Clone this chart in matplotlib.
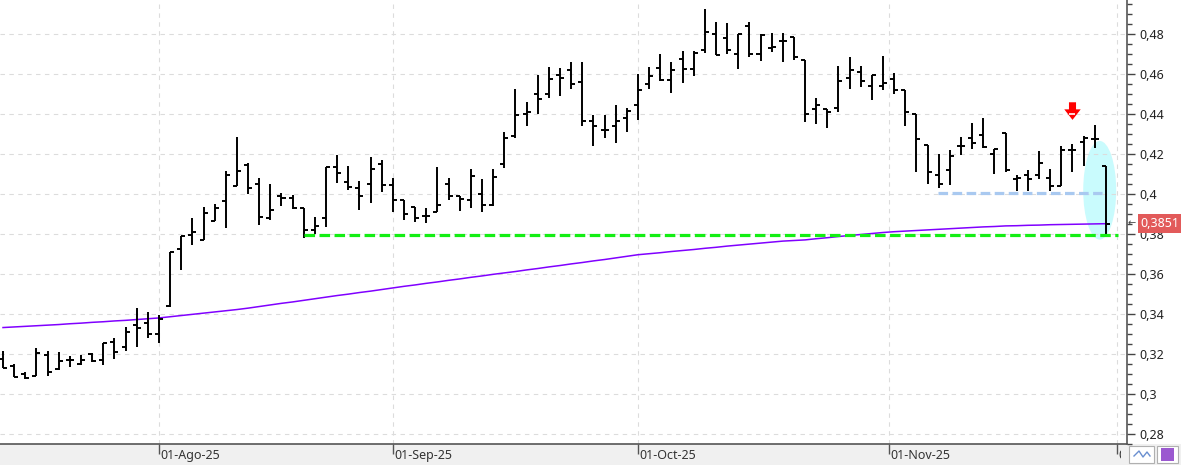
import matplotlib
matplotlib.use('Agg')
import matplotlib.pyplot as plt
import numpy as np
import pandas as pd
from matplotlib.patches import Ellipse, Rectangle
from matplotlib.transforms import Bbox, TransformedBbox

plt.rcParams['font.family'] = ['Noto Sans', 'DejaVu Sans']

# trading days shown on the chart
dates = pd.bdate_range('2025-07-14', '2025-11-28')

opens = [0.3177, 0.3142, 0.3099, 0.3092, 0.3193, 0.3125, 0.3168, 0.3148, 0.3198, 0.3168,
         0.3259, 0.3236, 0.3347, 0.3354, 0.3298, 0.3441, 0.3724, 0.3794, 0.3769, 0.3863,
         0.3963, 0.4037, 0.4142, 0.4048, 0.3878, 0.3988, 0.3978, 0.3928, 0.3820, 0.3878,
         0.4132, 0.4057, 0.4027, 0.4049, 0.4148, 0.4042, 0.3969, 0.3932, 0.3887, 0.3908,
         0.4049, 0.3990, 0.3969, 0.3998, 0.3946, 0.4147, 0.4289, 0.4400, 0.4497, 0.4497,
         0.4596, 0.4621, 0.4560, 0.4363, 0.4321, 0.4341, 0.4381, 0.4442, 0.4548, 0.4631,
         0.4570, 0.4674, 0.4624, 0.4717, 0.4798, 0.4779, 0.4700, 0.4840, 0.4700, 0.4729,
         0.4765, 0.4784, 0.4667, 0.4422, 0.4422, 0.4430, 0.4580, 0.4611, 0.4538, 0.4538,
         0.4575, 0.4521, 0.4400, 0.4243, 0.4093, 0.4120, 0.4239, 0.4281, 0.4293, 0.4198,
         0.4303, 0.4074, 0.4094, 0.4094, 0.4077, 0.4037, 0.4218, 0.4261, 0.4273, 0.4140]
highs = [0.3216, 0.3148, 0.3112, 0.3229, 0.3215, 0.3208, 0.3192, 0.3195, 0.3203, 0.3257,
         0.3278, 0.3336, 0.3430, 0.3410, 0.3394, 0.3712, 0.3792, 0.3880, 0.3933, 0.3948,
         0.4112, 0.4283, 0.4154, 0.4078, 0.4048, 0.4004, 0.3994, 0.3928, 0.3883, 0.4132,
         0.4193, 0.4137, 0.4062, 0.4182, 0.4170, 0.4079, 0.3969, 0.3935, 0.3928, 0.4133,
         0.4079, 0.3990, 0.4123, 0.4073, 0.4123, 0.4311, 0.4525, 0.4460, 0.4596, 0.4634,
         0.4629, 0.4659, 0.4659, 0.4392, 0.4392, 0.4442, 0.4430, 0.4600, 0.4634, 0.4699,
         0.4659, 0.4715, 0.4715, 0.4924, 0.4858, 0.4853, 0.4800, 0.4858, 0.4800, 0.4805,
         0.4803, 0.4784, 0.4667, 0.4480, 0.4422, 0.4641, 0.4684, 0.4641, 0.4595, 0.4691,
         0.4605, 0.4521, 0.4400, 0.4243, 0.4198, 0.4218, 0.4286, 0.4353, 0.4381, 0.4223,
         0.4303, 0.4094, 0.4119, 0.4212, 0.4124, 0.4240, 0.4248, 0.4289, 0.4343, 0.4140]
lows = [0.3128, 0.3085, 0.3075, 0.3092, 0.3092, 0.3120, 0.3137, 0.3145, 0.3162, 0.3145,
        0.3174, 0.3216, 0.3233, 0.3281, 0.3257, 0.3436, 0.3618, 0.3747, 0.3769, 0.3863,
        0.3832, 0.4037, 0.3999, 0.3846, 0.3868, 0.3937, 0.3925, 0.3782, 0.3800, 0.3837,
        0.4053, 0.4021, 0.3921, 0.3952, 0.4011, 0.3911, 0.3871, 0.3861, 0.3855, 0.3908,
        0.3971, 0.3915, 0.3928, 0.3911, 0.3941, 0.4127, 0.4281, 0.4339, 0.4400, 0.4478,
        0.4488, 0.4525, 0.4339, 0.4240, 0.4279, 0.4256, 0.4311, 0.4371, 0.4525, 0.4566,
        0.4505, 0.4555, 0.4588, 0.4704, 0.4694, 0.4699, 0.4624, 0.4684, 0.4662, 0.4707,
        0.4657, 0.4671, 0.4359, 0.4351, 0.4331, 0.4411, 0.4525, 0.4533, 0.4468, 0.4518,
        0.4498, 0.4339, 0.4110, 0.4048, 0.4027, 0.4044, 0.4193, 0.4223, 0.4231, 0.4099,
        0.4110, 0.4016, 0.4016, 0.4074, 0.4016, 0.4037, 0.4110, 0.4137, 0.4231, 0.3801]
closes = [0.3132, 0.3085, 0.3079, 0.3203, 0.3109, 0.3165, 0.3170, 0.3168, 0.3165, 0.3257,
          0.3208, 0.3311, 0.3331, 0.3298, 0.3374, 0.3709, 0.3792, 0.3809, 0.3903, 0.3928,
          0.4092, 0.4112, 0.4028, 0.3882, 0.3920, 0.3978, 0.3928, 0.3818, 0.3839, 0.4132,
          0.4104, 0.4035, 0.3988, 0.4122, 0.4044, 0.3968, 0.3898, 0.3878, 0.3887, 0.3942,
          0.3990, 0.3974, 0.4087, 0.3946, 0.4083, 0.4281, 0.4392, 0.4410, 0.4475, 0.4575,
          0.4580, 0.4551, 0.4363, 0.4339, 0.4321, 0.4363, 0.4414, 0.4520, 0.4591, 0.4570,
          0.4619, 0.4624, 0.4703, 0.4808, 0.4694, 0.4717, 0.4800, 0.4700, 0.4795, 0.4734,
          0.4765, 0.4684, 0.4400, 0.4442, 0.4411, 0.4566, 0.4619, 0.4566, 0.4595, 0.4555,
          0.4521, 0.4411, 0.4272, 0.4110, 0.4049, 0.4187, 0.4239, 0.4256, 0.4236, 0.4223,
          0.4120, 0.4077, 0.4074, 0.4152, 0.4037, 0.4218, 0.4218, 0.4281, 0.4273, 0.3851]

# long moving average (purple)
ma_values = [0.3332, 0.3335, 0.3338, 0.3341, 0.3344, 0.3347, 0.3351, 0.3354, 0.3358, 0.3361,
             0.3365, 0.3368, 0.3372, 0.3376, 0.3380, 0.3386, 0.3392, 0.3398, 0.3404, 0.3410,
             0.3416, 0.3422, 0.3429, 0.3437, 0.3445, 0.3453, 0.3460, 0.3468, 0.3476, 0.3484,
             0.3492, 0.3499, 0.3507, 0.3514, 0.3522, 0.3530, 0.3538, 0.3545, 0.3553, 0.3560,
             0.3568, 0.3575, 0.3583, 0.3590, 0.3598, 0.3605, 0.3612, 0.3620, 0.3627, 0.3635,
             0.3642, 0.3650, 0.3657, 0.3665, 0.3672, 0.3680, 0.3688, 0.3696, 0.3701, 0.3706,
             0.3712, 0.3717, 0.3722, 0.3728, 0.3733, 0.3739, 0.3744, 0.3749, 0.3754, 0.3759,
             0.3764, 0.3767, 0.3770, 0.3776, 0.3781, 0.3787, 0.3792, 0.3797, 0.3802, 0.3807,
             0.3811, 0.3814, 0.3817, 0.3820, 0.3823, 0.3826, 0.3829, 0.3832, 0.3835, 0.3837,
             0.3840, 0.3841, 0.3843, 0.3844, 0.3846, 0.3847, 0.3848, 0.3849, 0.3850, 0.3851]

month_starts = ['2025-08-01', '2025-09-01', '2025-10-01', '2025-11-01', '2025-12-01']
month_labels = ['01-Ago-25', '01-Sep-25', '01-Oct-25', '01-Nov-25', '01-Dic-25']
y_ticks = [0.28, 0.30, 0.32, 0.34, 0.36, 0.38, 0.40, 0.42, 0.44, 0.46, 0.48]

# drawn annotations (bar index units / price)
support_level, support_from, support_to = 0.3795, 27, 100.1
range_level, range_from, range_to = 0.4006, 83.9, 98.7
arrow_bar, arrow_y = 96, 0.4420
ellipse_center, ellipse_size = (98.45, 0.4018), (2.96, 0.0493)
last_price = closes[-1]

W, H = 1181, 465
fig = plt.figure(figsize=(W / 100, H / 100), dpi=100, facecolor='#f0f0f0')
ax = fig.add_axes([0, 21 / H, 1127 / W, 444 / H])
# white panel behind the price scale
fig.patches.append(Rectangle((1127 / W, 21 / H), 1 - 1127 / W, 444 / H,
                             transform=fig.transFigure, facecolor='white', edgecolor='none', zorder=-1))

x = np.arange(len(dates))
tick_w = 0.36

# highlight ellipse behind the bars
ax.add_patch(Ellipse(ellipse_center, ellipse_size[0], ellipse_size[1],
                     facecolor='#c9fbfd', edgecolor='none', zorder=1))

ax.plot(x, ma_values, color='#8000ff', lw=1.1, zorder=2)

ax.vlines(x, lows, highs, color='black', lw=1.4, zorder=3, capstyle='butt')
ax.hlines(opens, x - tick_w, x, color='black', lw=1.4, zorder=3)
ax.hlines(closes, x, x + tick_w, color='black', lw=1.4, zorder=3)

ax.hlines(support_level, support_from, support_to, color='#14ee14', lw=2.3,
          linestyles=(0, (3.3, 1.4)), zorder=4)
ax.hlines(range_level, range_from, range_to, color='#a9c9f0', lw=2.3,
          linestyles=(0, (3.0, 1.4)), zorder=4)

# red block arrow pointing down, with a small white dash in the head
arrow_marker = [(-0.43, 1.0), (0.43, 1.0), (0.43, 0.14), (1.0, 0.14), (0.0, -1.14),
                (-1.0, 0.14), (-0.43, 0.14)]
ax.plot([arrow_bar], [arrow_y], marker=arrow_marker, ms=13.5, color='#ff0000',
        markeredgewidth=0, linestyle='none', zorder=5)
ax.plot([arrow_bar], [arrow_y - 0.0022], marker='_', ms=4.5, color='white',
        markeredgewidth=1.2, linestyle='none', zorder=6)

# month ticks: weekend month starts fall between two bars
tick_pos = []
for m in pd.to_datetime(month_starts):
    p = float(np.searchsorted(dates, m))
    if m.weekday() >= 5:
        p -= 0.5
    tick_pos.append(p)

ax.set_xlim(-0.27, 100.9)
ax.set_ylim(0.276, 0.4969)
ax.set_facecolor('white')

ax.set_xticks(tick_pos)
ax.set_xticklabels([''] * len(tick_pos))
ax.tick_params(axis='x', length=7, width=1, color='#555555', direction='out')

ax.yaxis.tick_right()
ax.set_yticks(y_ticks)
ax.set_yticklabels([f'{v:.2f}'.rstrip('0').rstrip('.').replace('.', ',') for v in y_ticks])
ax.set_yticks(np.arange(0.275, 0.50, 0.005), minor=True)
ax.tick_params(axis='y', which='major', length=6, width=1, color='#444444',
               labelsize=9, labelcolor='#222222', pad=3)
ax.tick_params(axis='y', which='minor', length=3.5, width=1, color='#444444')

ax.grid(True, which='major', color='#dcdcdc', lw=0.8, linestyle=(0, (4, 4)))
for s in ['top', 'left']:
    ax.spines[s].set_visible(False)
for s in ['right', 'bottom']:
    ax.spines[s].set_color('#555555')
    ax.spines[s].set_linewidth(1.2)

# date labels to the right of each tick, cut off where the price scale starts
clip = TransformedBbox(Bbox.from_extents(0, 0, 1121 / W, 1), fig.transFigure)
for p, lab in zip(tick_pos, month_labels):
    t = fig.text(p + 0.15, -0.027, lab, transform=ax.get_xaxis_transform(),
                 ha='left', va='center', fontsize=9, color='#333333')
    t.set_clip_box(clip)
    t.set_clip_on(True)

# last price marker on the scale
ax.annotate(f'{last_price:.4f}'.replace('.', ','), xy=(1, last_price),
            xycoords=ax.get_yaxis_transform(), xytext=(9.8, 0), textcoords='offset points',
            ha='left', va='center', fontsize=9, color='white', zorder=7, annotation_clip=False,
            bbox=dict(boxstyle='square,pad=0.22', facecolor='#e25a5a', edgecolor='none'))
ax.annotate('\u2190', xy=(1, last_price), xycoords=ax.get_yaxis_transform(),
            xytext=(0.3, 0), textcoords='offset points', family='DejaVu Sans',
            ha='left', va='center', fontsize=7, color='#444444', zorder=8, annotation_clip=False)

# small buttons in the corner
fig.patches.append(Rectangle((1129 / W, 2 / H), 25 / W, 17 / H, transform=fig.transFigure,
                             facecolor='white', edgecolor='#b0b0b0', lw=0.8))
fig.patches.append(Rectangle((1157 / W, 2 / H), 21 / W, 17 / H, transform=fig.transFigure,
                             facecolor='white', edgecolor='#b0b0b0', lw=0.8))
fig.patches.append(Rectangle((1161 / W, 4 / H), 13 / W, 13 / H, transform=fig.transFigure,
                             facecolor='#9b59d0', edgecolor='none'))
fig.lines.append(plt.Line2D([1134 / W, 1139 / W, 1143 / W, 1147 / W, 1150 / W],
                            [9 / H, 14 / H, 8 / H, 13 / H, 9 / H], transform=fig.transFigure,
                            color='#6a8fd0', lw=1))

fig.savefig('out.png', dpi=100, facecolor=fig.get_facecolor())
